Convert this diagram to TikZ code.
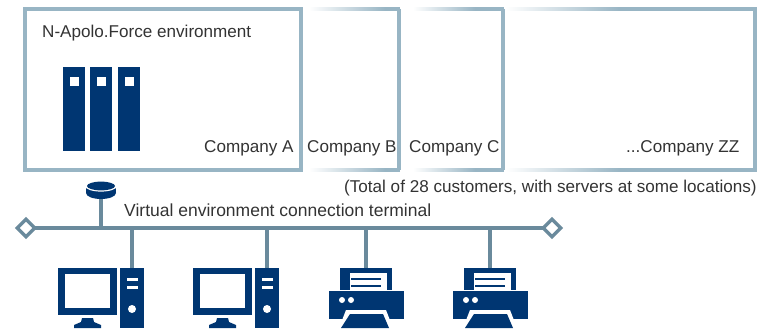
\documentclass[tikz,border=0pt]{standalone}
\usepackage{fontspec}
\setmainfont{Liberation Sans}
\usetikzlibrary{shapes.geometric}
\definecolor{navy}{HTML}{003672}
\definecolor{frameblue}{HTML}{98B5C4}
\definecolor{busblue}{HTML}{6A8A9C}
\definecolor{textgrey}{HTML}{333333}
\tikzset{
    solid box/.style={fill=navy,inner sep=0pt,outer sep=0pt},
    label text/.style={inner sep=0pt,anchor=base west,text=textgrey,font=\fontsize{17.1}{20}\selectfont},
    frame line/.style={draw=frameblue,line width=3.6pt},
    bus line/.style={draw=busblue,line width=3.8pt},
    drop line/.style={draw=busblue,line width=3.2pt},
    bus end/.style={diamond,draw=busblue,fill=white,line width=3.4pt,inner sep=0pt,outer sep=0pt,minimum width=17.5pt,minimum height=17.5pt},
    pcset/.pic={
        \node[solid box,minimum width=24pt,minimum height=60pt] (-tower) at (0,30) {};
        \node[solid box,minimum width=59pt,minimum height=47pt] (-monitor) at (-44.5,23.5) {};
        \fill[white] (-67,6) rectangle (-22,40);
        \fill[navy] (-50,50) -- (-39,50) -- (-38,54) -- (-31,57) -- (-31,60) -- (-58,60) -- (-58,57) -- (-51,54) -- cycle;
        \fill[white] (-5.5,10) rectangle (5.5,12.5);
        \fill[white] (-5.5,18) rectangle (5.5,20.5);
        \fill[white] (0,41) circle (4pt);
    },
    printerset/.pic={
        \node[solid box,minimum width=52pt,minimum height=22pt] (-tray) at (0,11) {};
        \node[solid box,minimum width=75pt,minimum height=28pt] (-body) at (0,37) {};
        \fill[white] (-16,5) rectangle (21,23);
        \fill[navy] (-15,9.5) rectangle (15,11.5);
        \fill[navy] (-15,16.5) rectangle (15,18.5);
        \fill[white] (-24,32) circle (3pt);
        \fill[white] (-15,32) circle (3pt);
        \fill[white] (-27,60) -- (-20,42) -- (20,42) -- (27,60) -- cycle;
        \fill[navy] (-25,60) -- (-16,46) -- (17,46) -- (23,60) -- cycle;
    },
}
\begin{document}
\begin{tikzpicture}[x=1pt,y=-1pt]
    \useasboundingbox (0,0) rectangle (766,329);
    % customer frames
    \draw[frame line] (25,9) rectangle (301,170);
    \draw[frame line] (399,9) -- (399,170);
    \draw[frame line] (503,9) -- (503,170);
    \draw[frame line] (755,7.2) -- (755,171.8);
    \shade[left color=white,right color=frameblue] (309,7.2) rectangle (385,10.8);
    \shade[left color=white,right color=frameblue] (309,168.2) rectangle (385,171.8);
    \fill[frameblue] (385,7.2) rectangle (400,10.8);
    \fill[frameblue] (385,168.2) rectangle (400,171.8);
    \shade[left color=white,right color=frameblue] (413,7.2) rectangle (475,10.8);
    \shade[left color=white,right color=frameblue] (413,168.2) rectangle (475,171.8);
    \fill[frameblue] (475,7.2) rectangle (504,10.8);
    \fill[frameblue] (475,168.2) rectangle (504,171.8);
    \shade[left color=white,right color=frameblue] (506,7.2) rectangle (620,10.8);
    \shade[left color=white,right color=frameblue] (506,168.2) rectangle (620,171.8);
    \fill[frameblue] (620,7.2) rectangle (756,10.8);
    \fill[frameblue] (620,168.2) rectangle (756,171.8);
    \node[label text] (envlabel) at (42,38) {N-Apolo.Force environment};
    \node[label text] (companyA) at (204,152) {Company A};
    \node[label text] (companyB) at (307,152) {Company B};
    \node[label text] (companyC) at (409,152) {Company C};
    \node[label text] (companyZZ) at (626,152) {...Company ZZ};
    \node[label text] (totalnote) at (344,192) {(Total of 28 customers, with servers at some locations)};
    \node[label text,font=\fontsize{17.5}{20}\selectfont] (terminallabel) at (124,216) {Virtual environment connection terminal};
    % servers
    \foreach \n/\x in {1/74,2/101,3/129} {
        \node[solid box,minimum width=22pt,minimum height=84pt] (server\n) at (\x,109) {};
        \fill[white] (\x-4.5,77) rectangle (\x+4.5,86);
    }
    % bus and taps
    \node[bus end] (busleft) at (26,228) {};
    \node[bus end] (busright) at (552,228) {};
    \draw[bus line] (busleft) -- (busright);
    \coordinate (tapterminal) at (101,228);
    \coordinate (tapA) at (132,228);
    \coordinate (tapB) at (267,228);
    \coordinate (tapC) at (366,228);
    \coordinate (tapD) at (490,228);
    % terminal
    \coordinate (terminal) at (101,198);
    \draw[drop line] (tapterminal) -- (terminal);
    \fill[navy] (86,187) rectangle (116,193);
    \fill[navy] (101,193) ellipse [x radius=15pt,y radius=6pt];
    \fill[white] (101,186) ellipse [x radius=16pt,y radius=5.6pt];
    \fill[navy] (101,186) ellipse [x radius=14pt,y radius=4.4pt];
    % devices
    \pic (pcA) at (132,268) {pcset};
    \pic (pcB) at (267,268) {pcset};
    \pic (printerA) at (366,268) {printerset};
    \pic (printerB) at (490,268) {printerset};
    \draw[drop line] (tapA) -- (pcA-tower.north);
    \draw[drop line] (tapB) -- (pcB-tower.north);
    \draw[drop line] (tapC) -- (printerA-tray.north);
    \draw[drop line] (tapD) -- (printerB-tray.north);
\end{tikzpicture}
\end{document}
